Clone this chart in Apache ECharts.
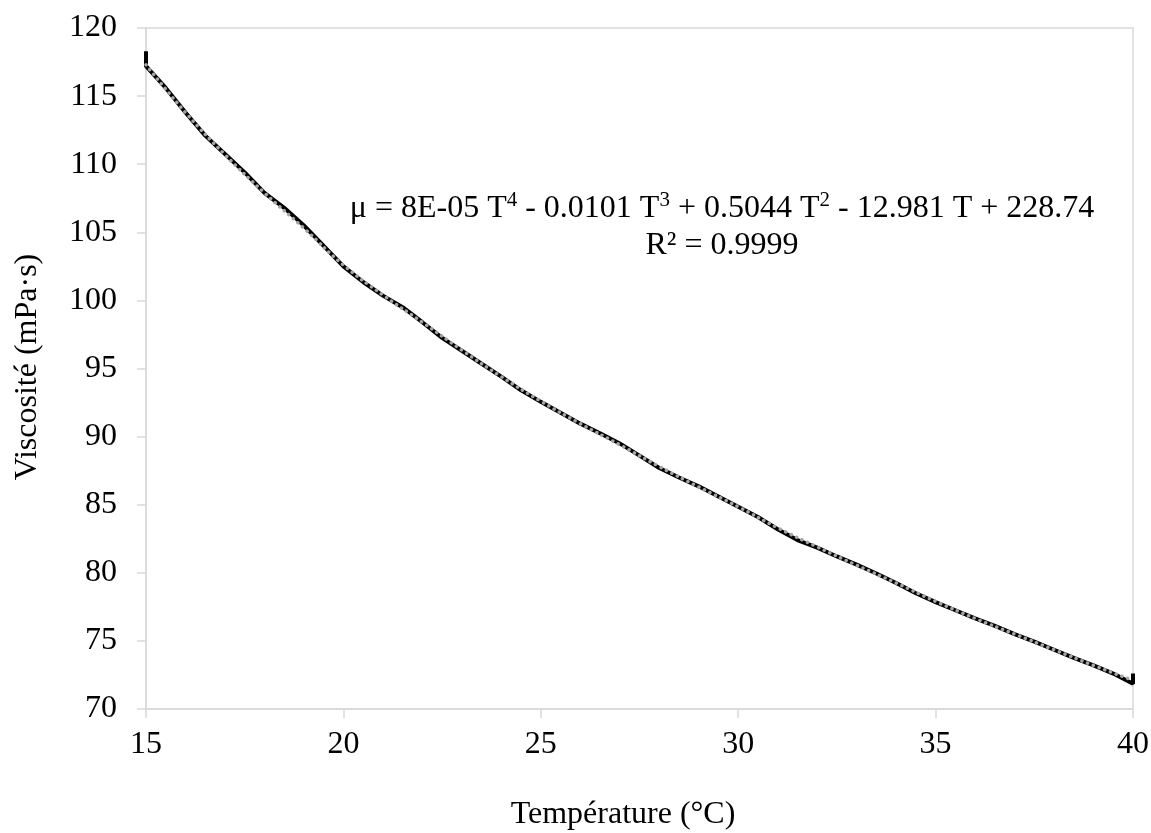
<!DOCTYPE html>
<html>
<head>
<meta charset="utf-8">
<script src="https://cdn.jsdelivr.net/npm/echarts@6/dist/echarts.min.js"></script>
<style>
html,body{margin:0;padding:0;background:#fff;}
#chart{width:1151px;height:833px;}
</style>
</head>
<body>
<div id="chart"></div>
<script>
const measuredT = [15, 15, 15.5, 16, 16.5, 17, 17.5, 18, 18.5, 19, 19.5, 20, 20.5, 21, 21.5, 22, 22.5, 23, 23.5, 24, 24.5, 25, 25.5, 26, 26.5, 27, 27.5, 28, 28.5, 29, 29.5, 30, 30.5, 31, 31.5, 32, 32.5, 33, 33.5, 34, 34.5, 35, 35.5, 36, 36.5, 37, 37.5, 38, 38.5, 39, 39.5, 40, 40];
const measuredV = [118.3, 117.2, 115.6, 113.8, 112.1, 110.75, 109.4, 107.9, 106.8, 105.5, 104.0, 102.5, 101.35, 100.35, 99.5, 98.4, 97.25, 96.3, 95.35, 94.4, 93.4, 92.55, 91.75, 90.95, 90.25, 89.5, 88.6, 87.7, 87.0, 86.35, 85.6, 84.85, 84.1, 83.2, 82.4, 81.85, 81.2, 80.6, 79.95, 79.25, 78.5, 77.85, 77.25, 76.65, 76.1, 75.5, 74.95, 74.35, 73.75, 73.2, 72.6, 71.85, 72.6];
// Polynomial trend line
const trendT = [15, 16, 17, 18, 19, 20, 21, 22, 23, 24, 25, 26, 27, 28, 29, 30, 31, 32, 33, 34, 35, 36, 37, 38, 39, 40];
const trendV = [117.3, 113.8, 110.7, 107.9, 105.3, 102.6, 100.4, 98.4, 96.35, 94.4, 92.6, 90.95, 89.4, 87.8, 86.3, 84.85, 83.3, 81.9, 80.55, 79.25, 77.9, 76.65, 75.5, 74.35, 73.2, 72.1];

const xTitle = 'Température (°C)';
const yTitle = 'Viscosité (mPa·s)';
const eqParts = ['μ = 8E-05 T', '4', ' - 0.0101 T', '3', ' + 0.5044 T', '2', ' - 12.981 T + 228.74'];
const r2Text = 'R² = 0.9999';

const FONT = '"Liberation Serif", "Times New Roman", serif';
const FS = 32;
const chart = echarts.init(document.getElementById('chart'), null, {renderer: 'canvas'});

const measuredData = measuredT.map((t, i) => [t, measuredV[i]]);
const trendData = trendT.map((t, i) => [t, trendV[i]]);

const eqRich = eqParts.map((p, i) => (i % 2 === 1 ? '{s|' + p + '}' : '{n|' + p + '}')).join('');

chart.setOption({
  animation: false,
  backgroundColor: '#ffffff',
  grid: {left: 146, right: 18, top: 28, bottom: 124, show: true, borderColor: '#d9d9d9', borderWidth: 1.5, backgroundColor: 'transparent', outerBoundsMode: 'none', containLabel: false},
  xAxis: {
    type: 'value', min: 15, max: 40, interval: 5,
    axisLine: {show: true, lineStyle: {color: '#d9d9d9', width: 1.5}},
    axisTick: {show: true, length: 9, lineStyle: {color: '#d9d9d9', width: 1.5}},
    splitLine: {show: false},
    axisLabel: {fontFamily: FONT, fontSize: FS, color: '#000', margin: 20}
  },
  yAxis: {
    type: 'value', min: 70, max: 120, interval: 5,
    axisLine: {show: true, lineStyle: {color: '#d9d9d9', width: 1.5}},
    axisTick: {show: true, length: 9, lineStyle: {color: '#d9d9d9', width: 1.5}},
    splitLine: {show: false},
    axisLabel: {fontFamily: FONT, fontSize: FS, color: '#000', margin: 29}
  },
  series: [
    {
      type: 'line', data: measuredData, showSymbol: false, smooth: false,
      lineStyle: {color: '#000000', width: 4}, z: 2
    },
    {
      type: 'line', data: trendData, showSymbol: false, smooth: true,
      lineStyle: {color: '#a6a6a6', width: 3.5, type: [0.1, 6], cap: 'round'}, z: 3
    }
  ],
  graphic: [
    {
      type: 'text', x: 722, y: 227, z: 10,
      style: {
        align: 'center', verticalAlign: 'middle',
        text: eqRich + '\n{n|' + r2Text + '}',
        rich: {
          n: {fontFamily: FONT, fontSize: FS, color: '#000', lineHeight: 37},
          s: {fontFamily: FONT, fontSize: 21, color: '#000', verticalAlign: 'top', lineHeight: 37}
        }
      }
    },
    {
      type: 'text', x: 623, y: 815, z: 10,
      style: {
        align: 'center', verticalAlign: 'middle', text: xTitle,
        fontFamily: FONT, fontSize: FS, fill: '#000'
      }
    },
    {
      type: 'text', x: 28, y: 367, rotation: Math.PI / 2, z: 10,
      style: {
        align: 'center', verticalAlign: 'middle', text: yTitle,
        fontFamily: FONT, fontSize: FS, fill: '#000'
      }
    }
  ]
});
</script>
</body>
</html>
